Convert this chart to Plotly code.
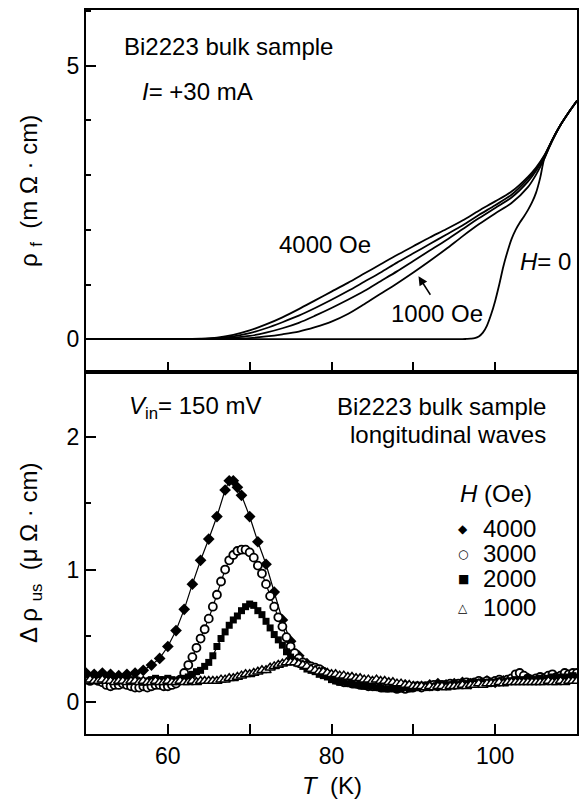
import plotly.graph_objects as go

# ---- top panel: flux-flow resistivity rho_f (mOhm cm) ----
T_rho = [50, 60, 62, 64, 66, 68, 70, 72, 74, 76, 78, 80, 82, 84, 86, 88, 90,
         92, 94, 96, 98, 100, 102, 104, 105, 106, 107, 108, 109, 110]
rho_4000 = [0, 0, 0.0, 0.01, 0.03, 0.08, 0.16, 0.27, 0.40, 0.55, 0.71, 0.87, 1.03, 1.20, 1.37,
            1.54, 1.70, 1.86, 2.01, 2.17, 2.35, 2.52, 2.70, 2.97, 3.14, 3.36, 3.65, 3.92, 4.15, 4.36]
rho_3000 = [0, 0, 0.0, 0.005, 0.02, 0.05, 0.11, 0.20, 0.31, 0.43, 0.57, 0.72, 0.88, 1.05, 1.22,
            1.40, 1.57, 1.74, 1.91, 2.08, 2.27, 2.45, 2.64, 2.93, 3.11, 3.35, 3.65, 3.92, 4.15, 4.36]
rho_2000 = [0, 0, 0, 0, 0.01, 0.03, 0.06, 0.12, 0.20, 0.30, 0.43, 0.57, 0.72, 0.88, 1.06,
            1.24, 1.43, 1.62, 1.81, 2.01, 2.21, 2.40, 2.59, 2.88, 3.08, 3.33, 3.65, 3.92, 4.15, 4.36]
rho_1000 = [0, 0, 0, 0, 0, 0.01, 0.02, 0.05, 0.09, 0.14, 0.22, 0.32, 0.46, 0.64, 0.83,
            1.02, 1.22, 1.43, 1.65, 1.88, 2.10, 2.30, 2.49, 2.78, 3.01, 3.30, 3.65, 3.92, 4.15, 4.36]

T_h0 = [50, 96, 96.5, 97, 97.5, 98, 98.5, 99, 99.5, 100, 100.5, 101, 101.5, 102, 102.5,
        103, 103.5, 104, 104.5, 105, 105.5, 106, 107, 108, 109, 110]
rho_h0 = [0, 0, 0.005, 0.01, 0.02, 0.05, 0.12, 0.25, 0.45, 0.70, 1.00, 1.33, 1.60, 1.83, 2.00,
          2.13, 2.24, 2.36, 2.50, 2.68, 2.95, 3.30, 3.63, 3.92, 4.15, 4.36]

# ---- bottom panel: ultrasonic delta rho (uOhm cm) ----
T_4000 = [50, 51, 52, 53, 54, 55, 56, 57, 58, 59, 60, 61, 62, 63, 64, 65, 66, 67, 67.5, 68,
          68.5, 69, 70, 71, 72, 73, 74, 75, 76, 77, 78, 79, 80, 81, 82, 83, 84, 85, 86, 87,
          88, 89, 90, 91, 92, 93, 94, 95, 96, 97, 98, 99, 100, 101, 102, 103, 104, 105, 106,
          107, 108, 109, 110]
d_4000 = [0.22, 0.21, 0.22, 0.21, 0.20, 0.21, 0.22, 0.24, 0.28, 0.33, 0.42, 0.54, 0.70, 0.89,
          1.07, 1.23, 1.40, 1.60, 1.67, 1.67, 1.62, 1.56, 1.40, 1.21, 1.04, 0.83, 0.62, 0.46,
          0.35, 0.29, 0.25, 0.22, 0.19, 0.17, 0.16, 0.15, 0.14, 0.14, 0.13, 0.12, 0.12, 0.13,
          0.12, 0.12, 0.13, 0.14, 0.13, 0.14, 0.15, 0.14, 0.15, 0.16, 0.15, 0.16, 0.17, 0.19,
          0.18, 0.17, 0.18, 0.19, 0.18, 0.19, 0.20]

T_half = [50.0, 50.5, 51.0, 51.5, 52.0, 52.5, 53.0, 53.5, 54.0, 54.5,
          55.0, 55.5, 56.0, 56.5, 57.0, 57.5, 58.0, 58.5, 59.0, 59.5,
          60.0, 60.5, 61.0, 61.5, 62.0, 62.5, 63.0, 63.5, 64.0, 64.5,
          65.0, 65.5, 66.0, 66.5, 67.0, 67.5, 68.0, 68.5, 69.0, 69.5,
          70.0, 70.5, 71.0, 71.5, 72.0, 72.5, 73.0, 73.5, 74.0, 74.5,
          75.0, 75.5, 76.0, 76.5, 77.0, 77.5, 78.0, 78.5, 79.0, 79.5,
          80.0, 80.5, 81.0, 81.5, 82.0, 82.5, 83.0, 83.5, 84.0, 84.5,
          85.0, 85.5, 86.0, 86.5, 87.0, 87.5, 88.0, 88.5, 89.0, 89.5,
          90.0, 90.5, 91.0, 91.5, 92.0, 92.5, 93.0, 93.5, 94.0, 94.5,
          95.0, 95.5, 96.0, 96.5, 97.0, 97.5, 98.0, 98.5, 99.0, 99.5,
          100.0, 100.5, 101.0, 101.5, 102.0, 102.5, 103.0, 103.5, 104.0, 104.5,
          105.0, 105.5, 106.0, 106.5, 107.0, 107.5, 108.0, 108.5, 109.0, 109.5,
          110.0]

d_3000 = [0.17, 0.16, 0.17, 0.16, 0.15, 0.13, 0.12, 0.13, 0.13, 0.14,
          0.13, 0.12, 0.11, 0.11, 0.12, 0.11, 0.12, 0.13, 0.13, 0.12,
          0.12, 0.13, 0.14, 0.17, 0.22, 0.28, 0.34, 0.41, 0.48, 0.55,
          0.63, 0.72, 0.81, 0.91, 1.00, 1.07, 1.11, 1.14, 1.15, 1.15,
          1.13, 1.09, 1.03, 0.97, 0.89, 0.80, 0.72, 0.64, 0.57, 0.49,
          0.42, 0.37, 0.33, 0.30, 0.28, 0.27, 0.26, 0.25, 0.23, 0.21,
          0.19, 0.17, 0.16, 0.15, 0.15, 0.14, 0.14, 0.13, 0.13, 0.12,
          0.12, 0.12, 0.11, 0.12, 0.11, 0.11, 0.10, 0.11, 0.10, 0.11,
          0.11, 0.12, 0.11, 0.12, 0.12, 0.13, 0.12, 0.13, 0.13, 0.14,
          0.13, 0.14, 0.14, 0.15, 0.14, 0.15, 0.16, 0.15, 0.16, 0.15,
          0.16, 0.17, 0.16, 0.17, 0.18, 0.21, 0.22, 0.20, 0.18, 0.17,
          0.18, 0.19, 0.18, 0.20, 0.21, 0.19, 0.20, 0.22, 0.21, 0.22,
          0.22]

d_2000 = [0.19, 0.18, 0.19, 0.18, 0.17, 0.18, 0.17, 0.18, 0.17, 0.16,
          0.17, 0.16, 0.17, 0.16, 0.15, 0.16, 0.17, 0.18, 0.17, 0.17,
          0.18, 0.17, 0.16, 0.17, 0.18, 0.19, 0.21, 0.23, 0.24, 0.27,
          0.30, 0.35, 0.42, 0.48, 0.53, 0.58, 0.62, 0.65, 0.69, 0.72,
          0.74, 0.73, 0.69, 0.66, 0.61, 0.56, 0.51, 0.47, 0.43, 0.38,
          0.34, 0.31, 0.29, 0.27, 0.25, 0.24, 0.23, 0.21, 0.20, 0.19,
          0.17, 0.16, 0.15, 0.15, 0.14, 0.14, 0.13, 0.13, 0.12, 0.12,
          0.12, 0.11, 0.11, 0.10, 0.10, 0.11, 0.10, 0.10, 0.11, 0.10,
          0.11, 0.11, 0.12, 0.12, 0.11, 0.12, 0.13, 0.12, 0.13, 0.13,
          0.14, 0.13, 0.14, 0.14, 0.15, 0.14, 0.15, 0.15, 0.14, 0.15,
          0.15, 0.16, 0.15, 0.16, 0.16, 0.17, 0.16, 0.17, 0.18, 0.17,
          0.17, 0.18, 0.17, 0.18, 0.19, 0.18, 0.19, 0.18, 0.19, 0.20,
          0.19]

d_1000 = [0.16, 0.17, 0.16, 0.16, 0.17, 0.16, 0.16, 0.15, 0.16, 0.16,
          0.15, 0.16, 0.16, 0.15, 0.16, 0.15, 0.15, 0.16, 0.15, 0.15,
          0.16, 0.15, 0.15, 0.16, 0.15, 0.15, 0.16, 0.15, 0.16, 0.16,
          0.16, 0.16, 0.16, 0.17, 0.17, 0.18, 0.18, 0.19, 0.20, 0.21,
          0.21, 0.22, 0.23, 0.24, 0.24, 0.26, 0.27, 0.28, 0.29, 0.30,
          0.30, 0.30, 0.29, 0.28, 0.27, 0.25, 0.24, 0.23, 0.23, 0.22,
          0.21, 0.21, 0.20, 0.20, 0.19, 0.19, 0.18, 0.18, 0.17, 0.17,
          0.16, 0.17, 0.16, 0.16, 0.15, 0.15, 0.14, 0.14, 0.13, 0.13,
          0.12, 0.12, 0.12, 0.11, 0.12, 0.11, 0.12, 0.12, 0.11, 0.12,
          0.12, 0.12, 0.13, 0.12, 0.13, 0.13, 0.14, 0.13, 0.14, 0.14,
          0.14, 0.15, 0.14, 0.15, 0.15, 0.15, 0.15, 0.15, 0.15, 0.15,
          0.15, 0.15, 0.15, 0.16, 0.15, 0.15, 0.16, 0.15, 0.16, 0.16,
          0.16]

legend_fields = ['4000', '3000', '2000', '1000']
legend_glyphs = ['\u25c6', '\u25cb', '\u25a0', '\u25b3']
legend_y = [1.308, 1.12, 0.932, 0.714]

FONT = 'Liberation Sans, Arial, Helvetica, sans-serif'

fig = go.Figure()

# top panel curves
for rho in [rho_4000, rho_3000, rho_2000, rho_1000]:
    fig.add_trace(go.Scatter(x=T_rho, y=rho, mode='lines', xaxis='x', yaxis='y',
                             line=dict(color='black', width=1.8, shape='spline', smoothing=0.8),
                             showlegend=False))
fig.add_trace(go.Scatter(x=T_h0, y=rho_h0, mode='lines', xaxis='x', yaxis='y',
                         line=dict(color='black', width=1.8, shape='spline', smoothing=0.8),
                         showlegend=False))

# bottom panel: four fields
fig.add_trace(go.Scatter(x=T_4000, y=d_4000, mode='lines+markers', xaxis='x2', yaxis='y2',
                         line=dict(color='black', width=1.2),
                         marker=dict(symbol='diamond', size=9, color='black'),
                         showlegend=False))
fig.add_trace(go.Scatter(x=T_half, y=d_3000, mode='lines+markers', xaxis='x2', yaxis='y2',
                         line=dict(color='black', width=1.2),
                         marker=dict(symbol='circle', size=8, color='white',
                                     line=dict(color='black', width=1.8)),
                         showlegend=False))
fig.add_trace(go.Scatter(x=T_half, y=d_2000, mode='lines+markers', xaxis='x2', yaxis='y2',
                         line=dict(color='black', width=1.2),
                         marker=dict(symbol='square', size=7, color='black'),
                         showlegend=False))
fig.add_trace(go.Scatter(x=T_half, y=d_1000, mode='lines+markers', xaxis='x2', yaxis='y2',
                         line=dict(color='black', width=1.2),
                         marker=dict(symbol='triangle-up', size=9, color='white',
                                     line=dict(color='black', width=1.5)),
                         showlegend=False))

axis_common = dict(
    range=[50, 110],
    showline=True, mirror=True, linecolor='black', linewidth=2,
    ticks='inside', ticklen=10, tickwidth=1.5, tickcolor='black',
    showgrid=False, zeroline=False,
    tickfont=dict(family=FONT, size=23, color='black'),
)

annotations = [
    # top panel texts
    dict(x=54.38, y=5.35, xref='x', yref='y', text='Bi2223 bulk sample',
         xanchor='left', yanchor='middle', showarrow=False),
    dict(x=56.57, y=4.53, xref='x', yref='y', text='<i>I</i>= +30 mA',
         xanchor='left', yanchor='middle', showarrow=False),
    dict(x=73.36, y=1.73, xref='x', yref='y', text='4000 Oe',
         xanchor='left', yanchor='middle', showarrow=False),
    dict(x=86.98, y=0.47, xref='x', yref='y', text='1000 Oe',
         xanchor='left', yanchor='middle', showarrow=False),
    dict(x=102.8, y=1.42, xref='x', yref='y', text='<i>H</i>= 0',
         xanchor='left', yanchor='middle', showarrow=False),
    dict(x=90.63, y=1.15, xref='x', yref='y', ax=92.2, ay=0.785, axref='x', ayref='y',
         text='', showarrow=True, arrowhead=2, arrowsize=1.2, arrowwidth=1.5,
         arrowcolor='black'),
    # bottom panel texts
    dict(x=54.99, y=2.22, xref='x2', yref='y2', text='<i>V</i><sub>in</sub>= 150 mV',
         xanchor='left', yanchor='middle', showarrow=False),
    dict(x=106.45, y=2.233, xref='x2', yref='y2', text='Bi2223 bulk sample',
         xanchor='right', yanchor='middle', showarrow=False),
    dict(x=106.45, y=2.02, xref='x2', yref='y2', text='longitudinal waves',
         xanchor='right', yanchor='middle', showarrow=False),
    dict(x=95.5, y=1.571, xref='x2', yref='y2', text='<i>H</i> (Oe)',
         xanchor='left', yanchor='middle', showarrow=False),
    # axis titles
    dict(x=0, y=0.75, xref='paper', yref='paper', xshift=-56, textangle=-90,
         text='\u03c1 <sub>f</sub>  (m \u03a9 \u00b7 cm)', showarrow=False,
         xanchor='center', yanchor='middle'),
    dict(x=0, y=0.25, xref='paper', yref='paper', xshift=-56, textangle=-90,
         text='\u0394 \u03c1 <sub>us</sub>  (\u03bc \u03a9 \u00b7 cm)', showarrow=False,
         xanchor='center', yanchor='middle'),
    dict(x=0.5, y=0, xref='paper', yref='paper', yshift=-51,
         text='<i>T</i>  (K)', showarrow=False, xanchor='center', yanchor='middle'),
]
for glyph, label, yv in zip(legend_glyphs, legend_fields, legend_y):
    annotations.append(dict(x=96.1, y=yv, xref='x2', yref='y2', text=glyph,
                            font=dict(family='DejaVu Sans', size=12, color='black'),
                            xanchor='center', yanchor='middle', showarrow=False))
    annotations.append(dict(x=98.3, y=yv, xref='x2', yref='y2', text=label,
                            xanchor='left', yanchor='middle', showarrow=False))

# the page body has an 8px margin, so the figure is sized to sit inside it
fig.update_layout(
    width=580, height=791,
    margin=dict(l=78, r=11, t=0, b=65),
    paper_bgcolor='white', plot_bgcolor='white',
    font=dict(family=FONT, size=24, color='black'),
    showlegend=False,
    xaxis=dict(axis_common, domain=[0, 1], anchor='y',
               tickvals=[60, 70, 80, 90, 100], showticklabels=False),
    yaxis=dict(axis_common, domain=[0.5, 1], anchor='x', range=[-0.6, 6.02],
               tickmode='linear', tick0=0, dtick=5,
               minor=dict(dtick=1, tick0=0, ticks='inside', ticklen=5,
                          tickwidth=1.5, tickcolor='black')),
    xaxis2=dict(axis_common, domain=[0, 1], anchor='y2',
                tickvals=[60, 70, 80, 90, 100], ticktext=['60', '', '80', '', '100']),
    yaxis2=dict(axis_common, domain=[0, 0.5], anchor='x2', range=[-0.24, 2.49],
                tickmode='linear', tick0=0, dtick=1,
                minor=dict(dtick=0.5, tick0=0, ticks='inside', ticklen=5,
                           tickwidth=1.5, tickcolor='black')),
    annotations=annotations,
)

fig.write_html("out.html")
